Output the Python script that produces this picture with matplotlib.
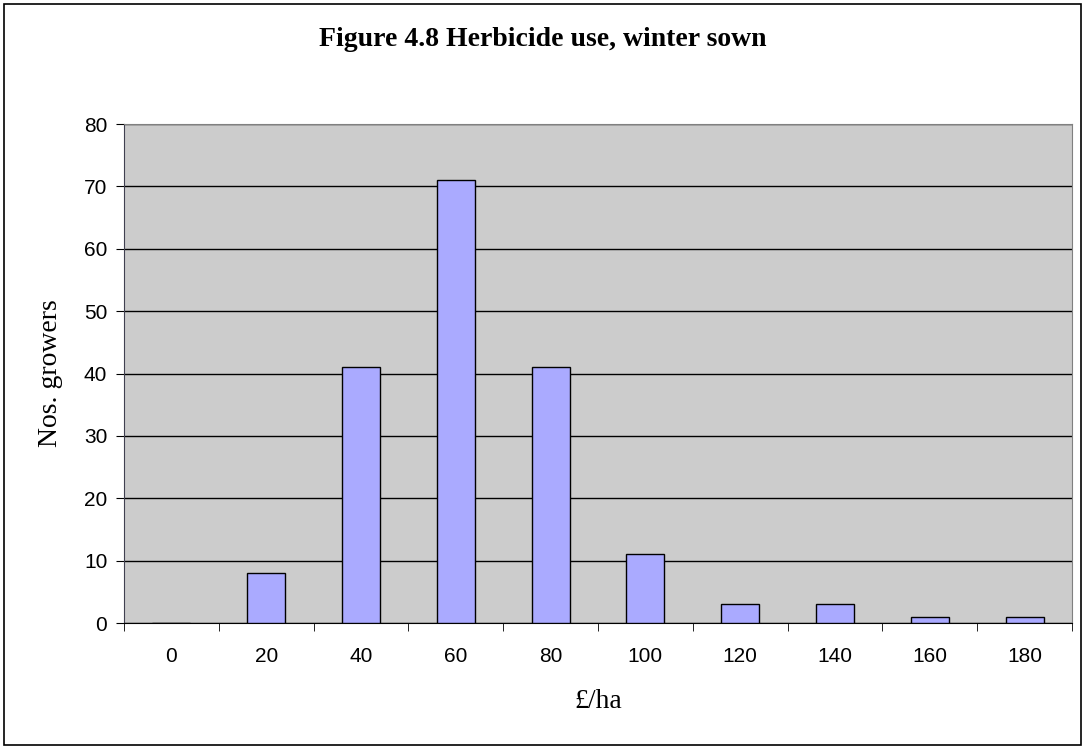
import matplotlib
matplotlib.use("Agg")
import matplotlib.pyplot as plt
from matplotlib.patches import Rectangle

# Herbicide cost bands (GBP/ha) and number of growers in each
categories = ["0", "20", "40", "60", "80", "100", "120", "140", "160", "180"]
growers = [0, 8, 41, 71, 41, 11, 3, 3, 1, 1]
y_ticks = [0, 10, 20, 30, 40, 50, 60, 70, 80]

serif = "Liberation Serif"
sans = "Liberation Sans"

fig = plt.figure(figsize=(10.85, 7.49), dpi=100)
ax = fig.add_axes([0.1143, 0.1682, 0.8737, 0.6662])

# outer chart border
fig.patches.append(Rectangle((0.004, 0.005), 0.992, 0.99, transform=fig.transFigure,
                             fill=False, edgecolor="black", linewidth=1.2))

ax.set_facecolor("#CCCCCC")
x = list(range(len(categories)))
ax.bar(x, growers, width=0.4, color="#AAAAFF", edgecolor="black", linewidth=1, zorder=3)

ax.set_xlim(-0.5, len(categories) - 0.5)
ax.set_ylim(0, 80)
ax.set_yticks(y_ticks)
ax.set_yticklabels([str(v) for v in y_ticks], fontfamily=sans, fontsize=15)
ax.yaxis.grid(True, color="black", linewidth=1, zorder=1)
ax.set_axisbelow(True)

# category labels centred, tick marks between categories
ax.set_xticks(x)
ax.set_xticklabels(categories, fontfamily=sans, fontsize=15)
ax.tick_params(axis="x", which="major", length=0, pad=17)
ax.set_xticks([i - 0.5 for i in range(len(categories) + 1)], minor=True)
ax.tick_params(axis="x", which="minor", length=6, color="black")
ax.tick_params(axis="y", length=6, pad=6)

ax.spines["left"].set_color("#404050")
ax.spines["bottom"].set_color("black")
for side in ["top", "right"]:
    ax.spines[side].set_color("#808080")

ax.set_xlabel("£/ha", fontfamily=serif, fontsize=20, va="center")
ax.xaxis.set_label_coords(0.5, -0.158)
ax.set_ylabel("Nos. growers", fontfamily=serif, fontsize=20, va="center")
ax.yaxis.set_label_coords(-0.078, 0.5)
fig.text(0.5, 0.947, "Figure 4.8 Herbicide use, winter sown", ha="center", va="center",
         fontfamily=serif, fontsize=20, fontweight="bold")

fig.savefig("out.png", dpi=100)
